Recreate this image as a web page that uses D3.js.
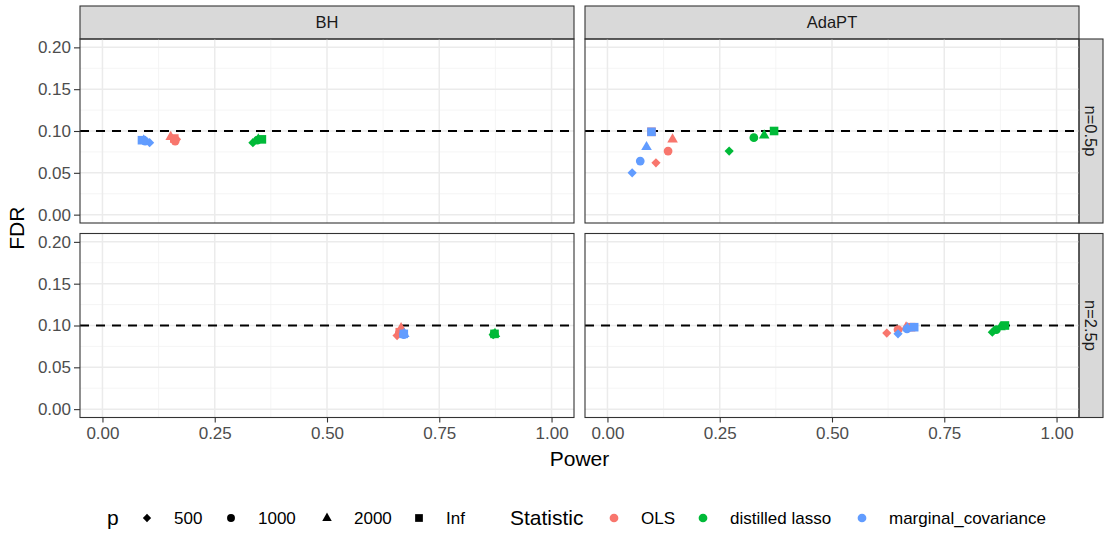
<!DOCTYPE html>
<html>
<head>
<meta charset="utf-8">
<script src="https://cdn.jsdelivr.net/npm/d3@7"></script>
<style>
  body { margin: 0; background: #fff; }
  svg { font-family: "Liberation Sans", Arial, sans-serif; }
</style>
</head>
<body>
<svg id="chart" width="1104" height="533"></svg>
<script>
// facet labels, legend levels
const methods = ['BH', 'AdaPT'];
const regimes = ['n=0.5p', 'n=2.5p'];
const pLevels = ['500', '1000', '2000', 'Inf'];
const statistics = ['OLS', 'distilled lasso', 'marginal_covariance'];
const xTicks = [0, 0.25, 0.5, 0.75, 1];
const yTicks = [0, 0.05, 0.1, 0.15, 0.2];
const targetFdr = 0.1;

// values ordered: statistic (OLS, distilled lasso, marginal_covariance) x p (500, 1000, 2000, Inf)
const powerBH05 = [0.165, 0.162, 0.152, 0.160, 0.335, 0.345, 0.347, 0.355, 0.105, 0.095, 0.092, 0.088];
const fdrBH05 = [0.090, 0.088, 0.093, 0.091, 0.086, 0.089, 0.090, 0.090, 0.086, 0.088, 0.089, 0.089];
const powerAda05 = [0.108, 0.135, 0.145, 0.098, 0.271, 0.326, 0.349, 0.371, 0.055, 0.073, 0.087, 0.098];
const fdrAda05 = [0.062, 0.076, 0.090, 0.099, 0.076, 0.092, 0.095, 0.100, 0.050, 0.064, 0.081, 0.099];
const powerBH25 = [0.656, 0.661, 0.665, 0.662, 0.870, 0.872, 0.874, 0.873, 0.670, 0.671, 0.672, 0.671];
const fdrBH25 = [0.088, 0.091, 0.097, 0.092, 0.089, 0.090, 0.090, 0.090, 0.090, 0.089, 0.090, 0.090];
const powerAda25 = [0.622, 0.647, 0.665, 0.676, 0.857, 0.866, 0.875, 0.885, 0.647, 0.667, 0.668, 0.683];
const fdrAda25 = [0.091, 0.095, 0.098, 0.098, 0.092, 0.095, 0.098, 0.100, 0.090, 0.096, 0.097, 0.098];

const panelValues = [
  {method: 'BH', regime: 'n=0.5p', power: powerBH05, fdr: fdrBH05},
  {method: 'AdaPT', regime: 'n=0.5p', power: powerAda05, fdr: fdrAda05},
  {method: 'BH', regime: 'n=2.5p', power: powerBH25, fdr: fdrBH25},
  {method: 'AdaPT', regime: 'n=2.5p', power: powerAda25, fdr: fdrAda25}
];

const colors = d3.scaleOrdinal().domain(statistics).range(['#F8766D', '#00BA38', '#619CFF']);

const shapePath = {
  '500': s => `M0,${-s * 4.6}L${s * 4.6},0L0,${s * 4.6}L${-s * 4.6},0Z`,
  '1000': s => d3.symbol(d3.symbolCircle, 60 * s * s)(),
  '2000': s => `M0,${-6 * s}L${5.3 * s},${3.2 * s}L${-5.3 * s},${3.2 * s}Z`,
  'Inf': s => `M${-4.3 * s},${-4.3 * s}h${8.6 * s}v${8.6 * s}h${-8.6 * s}Z`
};

const svg = d3.select('#chart');

const colX = [80, 585];
const rowY = [39, 233.5];
const panelW = 494;
const panelH = 184;

const x = d3.scaleLinear().domain([-0.05, 1.05]).range([0, panelW]);
const y = d3.scaleLinear().domain([-0.01, 0.21]).range([panelH, 0]);

// top strips
methods.forEach((m, i) => {
  const g = svg.append('g').attr('transform', `translate(${colX[i]},6)`);
  g.append('rect').attr('width', panelW).attr('height', 33)
    .attr('fill', '#D9D9D9').attr('stroke', '#333').attr('stroke-width', 1.1);
  g.append('text').attr('x', panelW / 2).attr('y', 22).attr('text-anchor', 'middle')
    .attr('font-size', 16.5).attr('fill', '#1A1A1A').text(m);
});

// right strips
regimes.forEach((r, j) => {
  const g = svg.append('g').attr('transform', `translate(1079,${rowY[j]})`);
  g.append('rect').attr('width', 24).attr('height', panelH)
    .attr('fill', '#D9D9D9').attr('stroke', '#333').attr('stroke-width', 1.1);
  g.append('text').attr('transform', `translate(6,${panelH / 2}) rotate(90)`)
    .attr('text-anchor', 'middle').attr('font-size', 16.5).attr('fill', '#1A1A1A').text(r);
});

panelValues.forEach(pv => {
  const i = methods.indexOf(pv.method);
  const j = regimes.indexOf(pv.regime);
  const g = svg.append('g').attr('transform', `translate(${colX[i]},${rowY[j]})`);

  // minor grid
  const xMinor = xTicks.slice(1).map((t, k) => (t + xTicks[k]) / 2);
  const yMinor = yTicks.slice(1).map((t, k) => (t + yTicks[k]) / 2);
  g.selectAll('.xminor').data(xMinor).enter().append('line')
    .attr('x1', d => x(d)).attr('x2', d => x(d)).attr('y1', 0).attr('y2', panelH)
    .attr('stroke', '#F2F2F2').attr('stroke-width', 0.8);
  g.selectAll('.yminor').data(yMinor).enter().append('line')
    .attr('y1', d => y(d)).attr('y2', d => y(d)).attr('x1', 0).attr('x2', panelW)
    .attr('stroke', '#F2F2F2').attr('stroke-width', 0.8);
  // major grid
  g.selectAll('.xmajor').data(xTicks).enter().append('line')
    .attr('x1', d => x(d)).attr('x2', d => x(d)).attr('y1', 0).attr('y2', panelH)
    .attr('stroke', '#EBEBEB').attr('stroke-width', 1.5);
  g.selectAll('.ymajor').data(yTicks).enter().append('line')
    .attr('y1', d => y(d)).attr('y2', d => y(d)).attr('x1', 0).attr('x2', panelW)
    .attr('stroke', '#EBEBEB').attr('stroke-width', 1.5);

  // target line
  g.append('line').attr('x1', 0).attr('x2', panelW)
    .attr('y1', y(targetFdr)).attr('y2', y(targetFdr))
    .attr('stroke', '#000').attr('stroke-width', 1.8).attr('stroke-dasharray', '9,7');

  const rows = [];
  statistics.forEach((s, si) => pLevels.forEach((p, pi) => {
    rows.push({stat: s, p: p, power: pv.power[si * 4 + pi], fdr: pv.fdr[si * 4 + pi]});
  }));

  g.selectAll('.pt').data(rows).enter().append('path')
    .attr('transform', d => `translate(${x(d.power)},${y(d.fdr)})`)
    .attr('d', d => shapePath[d.p](1))
    .attr('fill', d => colors(d.stat));

  g.append('rect').attr('width', panelW).attr('height', panelH)
    .attr('fill', 'none').attr('stroke', '#333').attr('stroke-width', 1.1);

  // y axis on left column
  if (i === 0) {
    const ya = svg.append('g').attr('transform', `translate(${colX[0]},${rowY[j]})`)
      .call(d3.axisLeft(y).tickValues(yTicks).tickFormat(d3.format('.2f')).tickSize(6).tickPadding(3));
    ya.select('.domain').remove();
    ya.selectAll('line').attr('stroke', '#333').attr('stroke-width', 1.1);
    ya.selectAll('text').attr('font-size', 17).attr('fill', '#4D4D4D')
      .attr('font-family', '"Liberation Sans", Arial, sans-serif');
  }
  // x axis on bottom row
  if (j === 1) {
    const xa = svg.append('g').attr('transform', `translate(${colX[i]},${rowY[1] + panelH})`)
      .call(d3.axisBottom(x).tickValues(xTicks).tickFormat(d3.format('.2f')).tickSize(5).tickPadding(4));
    xa.select('.domain').remove();
    xa.selectAll('line').attr('stroke', '#333').attr('stroke-width', 1.1);
    xa.selectAll('text').attr('font-size', 17).attr('fill', '#4D4D4D')
      .attr('font-family', '"Liberation Sans", Arial, sans-serif');
  }
});

// axis titles
svg.append('text').attr('x', (colX[0] + colX[1] + panelW) / 2).attr('y', 466)
  .attr('text-anchor', 'middle').attr('font-size', 21).text('Power');
svg.append('text').attr('transform', `translate(24,${(rowY[0] + rowY[1] + panelH) / 2}) rotate(-90)`)
  .attr('text-anchor', 'middle').attr('font-size', 21).text('FDR');

// legends
const legY = 518;
const legP = svg.append('g');
legP.append('text').attr('x', 107).attr('y', legY + 7).attr('font-size', 21).text('p');
const pKeyX = [147, 231, 327, 419];
pLevels.forEach((p, k) => {
  legP.append('path').attr('transform', `translate(${pKeyX[k]},${legY})`)
    .attr('d', shapePath[p](0.9)).attr('fill', '#000');
  legP.append('text').attr('x', pKeyX[k] + 27).attr('y', legY + 6).attr('font-size', 17).text(p);
});

const legS = svg.append('g');
legS.append('text').attr('x', 510).attr('y', legY + 7).attr('font-size', 21).text('Statistic');
const sKeyX = [614, 703, 862];
statistics.forEach((s, k) => {
  legS.append('path').attr('transform', `translate(${sKeyX[k]},${legY})`)
    .attr('d', shapePath['1000'](1)).attr('fill', colors(s));
  legS.append('text').attr('x', sKeyX[k] + 27).attr('y', legY + 6).attr('font-size', 17).text(s);
});
</script>
</body>
</html>
